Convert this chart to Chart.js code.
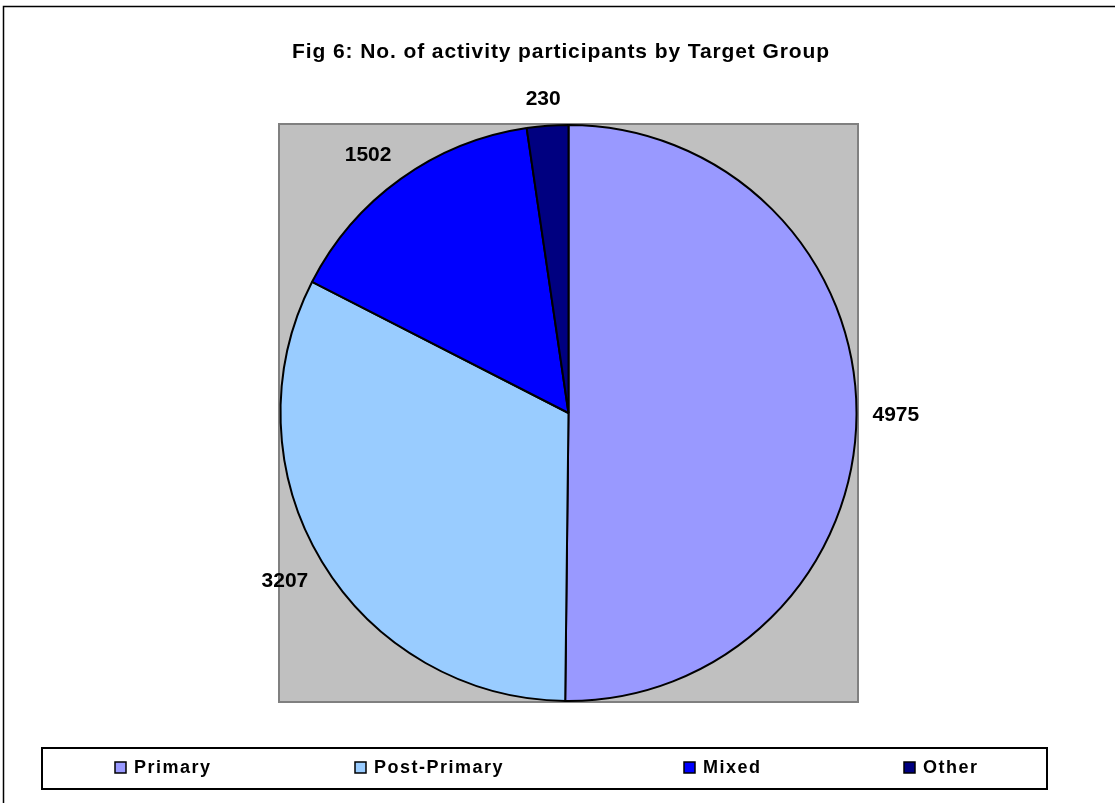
<!DOCTYPE html>
<html>
<head>
<meta charset="utf-8">
<script src="https://cdn.jsdelivr.net/npm/chart.js@4/dist/chart.umd.min.js"></script>
<style>
html,body{margin:0;padding:0;background:#fff;}
#wrap{width:1115px;height:803px;position:relative;}
</style>
</head>
<body>
<div id="wrap"><canvas id="c" width="1115" height="803"></canvas></div>
<script>
const titleText = "Fig 6: No. of activity participants by Target Group";
const categories = ["Primary", "Post-Primary", "Mixed", "Other"];
const participants = [4975, 3207, 1502, 230];
const sliceColors = ["#9999FF", "#99CCFF", "#0000FF", "#000080"];

const FONT = '"Liberation Sans", Arial, sans-serif';
const legendItemX = [115, 355, 684, 904];

const framePlugin = {
  id: 'frame',
  beforeDraw(chart) {
    const ctx = chart.ctx;
    ctx.save();
    ctx.fillStyle = '#fff';
    ctx.fillRect(0, 0, chart.width, chart.height);
    // outer chart border
    ctx.strokeStyle = '#000';
    ctx.lineWidth = 1.5;
    ctx.strokeRect(3.5, 6.5, 1130, 820);
    // plot area
    const a = chart.chartArea;
    ctx.fillStyle = '#C0C0C0';
    ctx.fillRect(a.left, a.top, a.right - a.left, a.bottom - a.top);
    ctx.strokeStyle = '#808080';
    ctx.lineWidth = 2;
    ctx.strokeRect(a.left, a.top, a.right - a.left, a.bottom - a.top);
    // title
    ctx.fillStyle = '#000';
    ctx.font = 'bold 21px ' + FONT;
    ctx.letterSpacing = '0.9px';
    ctx.textAlign = 'center';
    ctx.textBaseline = 'alphabetic';
    ctx.fillText(titleText, 561, 58);
    ctx.restore();
  },
  afterDatasetsDraw(chart) {
    const ctx = chart.ctx;
    const meta = chart.getDatasetMeta(0);
    const values = chart.data.datasets[0].data;
    ctx.save();
    ctx.fillStyle = '#000';
    ctx.font = 'bold 21px ' + FONT;
    ctx.letterSpacing = '0px';
    ctx.textAlign = 'center';
    ctx.textBaseline = 'middle';
    const g = 16;
    meta.data.forEach((arc, i) => {
      const p = arc.getProps(['x', 'y', 'startAngle', 'endAngle', 'outerRadius'], true);
      const mid = (p.startAngle + p.endAngle) / 2;
      const dx = Math.cos(mid), dy = Math.sin(mid);
      const txt = String(values[i]);
      const hw = ctx.measureText(txt).width / 2;
      const hh = 11;
      const clamp = v => Math.max(-1, Math.min(1, v));
      const ex = p.x + dx * p.outerRadius, ey = p.y + dy * p.outerRadius;
      const cx = ex + dx * g + clamp(dx * 2.5) * hw;
      const cy = ey + dy * g + clamp(dy * 2.5) * hh;
      ctx.fillText(txt, cx, cy);
    });
    // legend box
    ctx.strokeStyle = '#000';
    ctx.lineWidth = 2;
    ctx.fillStyle = '#fff';
    ctx.fillRect(42, 748, 1005, 41);
    ctx.strokeRect(42, 748, 1005, 41);
    ctx.font = 'bold 18px ' + FONT;
    ctx.letterSpacing = '1.5px';
    ctx.textAlign = 'left';
    ctx.textBaseline = 'middle';
    chart.data.labels.forEach((lab, i) => {
      const x = legendItemX[i];
      ctx.fillStyle = sliceColors[i];
      ctx.fillRect(x, 762, 11, 11);
      ctx.lineWidth = 1.5;
      ctx.strokeStyle = '#000';
      ctx.strokeRect(x, 762, 11, 11);
      ctx.fillStyle = '#000';
      ctx.fillText(lab, x + 19, 768);
    });
    ctx.restore();
  }
};

new Chart(document.getElementById('c'), {
  type: 'pie',
  data: {
    labels: categories,
    datasets: [{
      data: participants,
      backgroundColor: sliceColors,
      borderColor: '#000',
      borderWidth: 2
    }]
  },
  options: {
    responsive: false,
    animation: false,
    devicePixelRatio: 1,
    layout: { padding: { left: 279, right: 257, top: 124, bottom: 101 } },
    plugins: {
      legend: { display: false },
      title: { display: false },
      tooltip: { enabled: false }
    }
  },
  plugins: [framePlugin]
});
</script>
</body>
</html>
